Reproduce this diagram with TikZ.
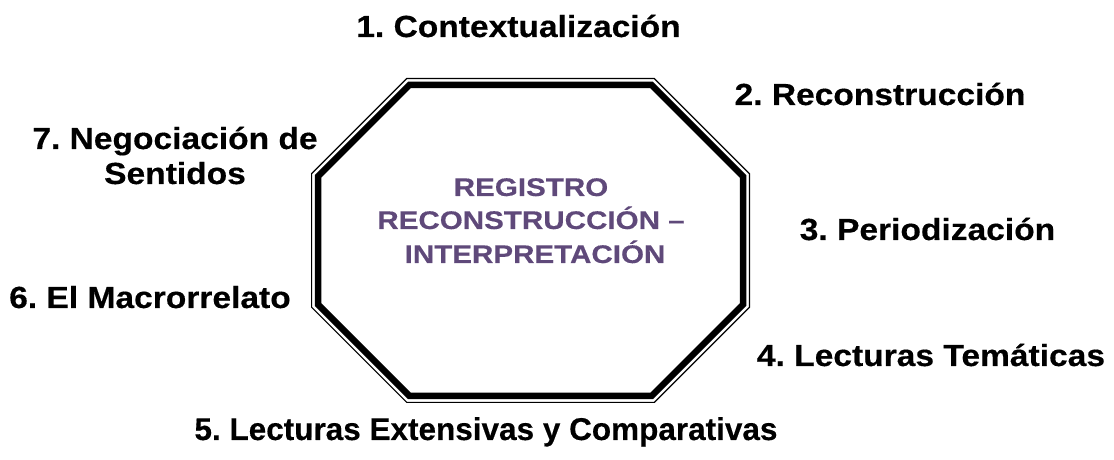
\documentclass[tikz,border=0pt]{standalone}
\usepackage{fontspec}
\setmainfont{Liberation Sans}[FakeStretch=1.1, BoldFeatures={FakeBold=0.4}]
\newfontfamily\narrowfont{Liberation Sans}[BoldFeatures={FakeBold=0.4}]
\newfontfamily\ctrfont{Liberation Sans}[FakeStretch=1.16, BoldFeatures={FakeBold=0.3}]
\definecolor{ctrpurple}{HTML}{5F497A}
\newcommand\octset[1]{%
  \pgfmathsetmacro\oL{311+#1}\pgfmathsetmacro\oR{750-#1}%
  \pgfmathsetmacro\oT{382-#1}\pgfmathsetmacro\oB{57+#1}%
  \pgfmathsetmacro\oC{95.5-0.5858*#1}}
\begin{document}
\frenchspacing
\begin{tikzpicture}[x=1pt,y=1pt,
  lbl/.style={font=\bfseries\fontsize{30.5}{35}\selectfont, anchor=base, align=center, inner sep=0pt},
  ctr/.style={font=\ctrfont\bfseries\fontsize{25.5}{33}\selectfont, text=ctrpurple, anchor=base, align=center, inner sep=0pt}]
\useasboundingbox (0,0) rectangle (1114,460);
% thin outer line
\octset{0.6}
\draw[line width=1.2pt, line join=miter]
  ({\oL+\oC},\oT) -- ({\oR-\oC},\oT) -- (\oR,{\oT-\oC}) -- (\oR,{\oB+\oC})
  -- ({\oR-\oC},\oB) -- ({\oL+\oC},\oB) -- (\oL,{\oB+\oC}) -- (\oL,{\oT-\oC}) -- cycle;
% thick inner line
\octset{7}
\draw[line width=6.5pt, line join=miter]
  ({\oL+\oC},\oT) -- ({\oR-\oC},\oT) -- (\oR,{\oT-\oC}) -- (\oR,{\oB+\oC})
  -- ({\oR-\oC},\oB) -- ({\oL+\oC},\oB) -- (\oL,{\oB+\oC}) -- (\oL,{\oT-\oC}) -- cycle;
% centre text
\node[ctr] (c1) at (531,264) {REGISTRO};
\node[ctr] (c2) at (531,231) {RECONSTRUCCIÓN –};
\node[ctr] (c3) at (535,197) {INTERPRETACIÓN};
% labels
\node[lbl] (l1) at (518.5,423) {1. Contextualización};
\node[lbl] (l2) at (880,355) {2. Reconstrucción};
\node[lbl] (l3) at (927.5,220) {3. Periodización};
\node[lbl] (l4) at (931,94) {4. Lecturas Temáticas};
\node[lbl, font=\narrowfont\bfseries\fontsize{31.5}{35}\selectfont] (l5) at (486,20) {5. Lecturas Extensivas y Comparativas};
\node[lbl] (l6) at (150,152) {6. El Macrorrelato};
\node[lbl] (l7) at (175,276) {7. Negociación de\\Sentidos};
\end{tikzpicture}
\end{document}
